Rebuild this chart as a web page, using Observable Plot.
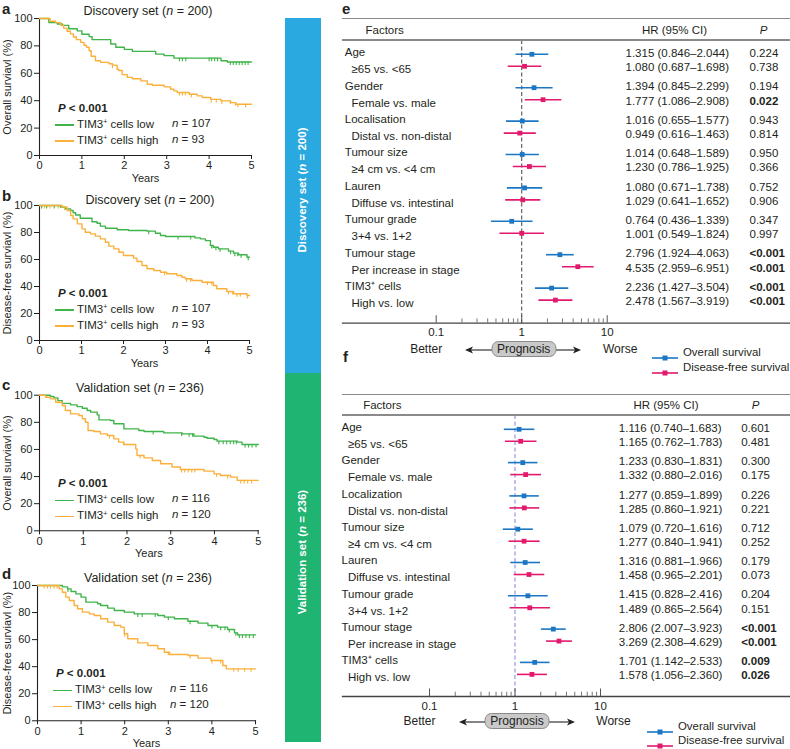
<!DOCTYPE html>
<html><head><meta charset="utf-8">
<script src="https://cdn.jsdelivr.net/npm/d3@7"></script>
<script src="https://cdn.jsdelivr.net/npm/@observablehq/plot@0.6"></script>
<style>
body{margin:0;background:#fff;font-family:"Liberation Sans",Arial,Helvetica,sans-serif;color:#231f20}
#root{position:relative;width:790px;height:749px;overflow:hidden}
.abs{position:absolute;white-space:nowrap;line-height:1}
.abs svg, #root > svg{overflow:visible}
.sup{font-size:0.62em;position:relative;top:-0.5em}
</style></head><body><div id="root"></div>
<script>
// ---------------- Kaplan–Meier data ----------------
const years = [0, 1, 2, 3, 4, 5];
const pctTicks = [0, 20, 40, 60, 80, 100];

const aLowT = [0, 0.22, 0.42, 0.54, 0.69, 0.89, 1.0, 1.17, 1.24, 1.68, 1.8, 2.0, 2.19, 2.74, 2.94, 3.17, 4.28, 4.43, 5];
const aLowS = [100, 97, 96, 95, 92.5, 91, 88.5, 86.8, 84.6, 81.4, 79, 77.5, 76, 74, 72.9, 71.1, 69.2, 68.3, 68.3];
const aLowC = [3.3, 3.37, 3.45, 4.0, 4.06, 4.13, 4.2, 4.5, 4.57, 4.64, 4.71, 4.78, 4.85, 4.92];
const aHighT = [0, 0.25, 0.38, 0.5, 0.57, 0.65, 0.73, 0.8, 0.87, 0.97, 1.05, 1.11, 1.17, 1.22, 1.32, 1.44, 1.64, 1.72, 1.83, 1.87, 1.95, 2.07, 2.19, 2.39, 2.54, 2.66, 2.94, 3.09, 3.17, 3.25, 3.53, 3.72, 3.84, 4.04, 4.28, 4.51, 4.63, 5];
const aHighS = [100, 98, 97, 95, 93, 90.7, 88.8, 86.5, 84.6, 82.6, 80.5, 79, 76.5, 72.5, 69.2, 68, 67, 66, 63, 62, 59, 57, 56, 54.5, 52, 51.3, 50.1, 48.4, 47.2, 46, 44.7, 43.5, 42.3, 41, 39.9, 38.6, 37.4, 37.4];
const aHighC = [1.72, 3.3, 3.37, 3.44, 3.58, 4.05, 4.17, 4.3, 4.5, 4.62, 4.68, 4.86];

const bLowT = [0, 0.5, 0.62, 0.74, 0.8, 0.86, 0.97, 1.25, 1.37, 1.45, 1.57, 1.85, 2.12, 2.56, 2.76, 2.88, 3.0, 3.7, 3.83, 3.95, 4.07, 4.14, 4.26, 4.5, 4.62, 4.74, 4.94, 5];
const bLowS = [100, 98.8, 97.5, 96.3, 94.6, 93, 90.6, 88, 86.9, 84.7, 83.2, 82, 81.5, 81, 79.5, 77.8, 77, 76, 75.3, 74, 70.4, 69.1, 67.9, 66.2, 64.7, 63.5, 61.7, 61.7];
const bLowC = [0.05, 0.17, 0.35, 2.6, 3.3, 3.6, 4.1, 4.2, 4.3, 4.55, 4.65, 4.72, 4.8, 4.97];
const bHighT = [0, 0.54, 0.66, 0.74, 0.8, 0.9, 1.01, 1.09, 1.21, 1.33, 1.45, 1.57, 1.65, 1.77, 1.89, 2.0, 2.24, 2.32, 2.44, 2.56, 2.72, 2.88, 3.03, 3.27, 3.39, 3.47, 3.63, 3.87, 4.14, 4.22, 4.46, 4.62, 4.94, 5];
const bHighS = [100, 98.8, 96.3, 92.6, 90.1, 86.4, 82.7, 80.2, 79, 77.3, 75.3, 72.8, 69.9, 67.9, 65.4, 63, 61, 58.5, 55.6, 53.1, 51.9, 50.6, 49.4, 48.1, 46.9, 45.7, 44.4, 43.2, 40.7, 38.3, 36.3, 34.6, 33.3, 33.3];
const bHighC = [0.12, 0.25, 0.45, 0.6, 2.98, 3.5, 3.6, 4.0, 4.1, 4.5, 4.6, 4.7, 4.78, 4.95];

const cLowT = [0, 0.25, 0.33, 0.42, 0.52, 0.71, 0.86, 0.98, 1.09, 1.17, 1.32, 1.36, 1.62, 1.7, 1.93, 2.27, 2.39, 2.84, 3.26, 3.53, 3.76, 3.83, 3.99, 4.06, 4.52, 4.63, 5];
const cLowS = [100, 99, 98, 96, 94, 92.9, 91.6, 90.4, 88.7, 87.5, 85.5, 81.8, 81.3, 78.9, 75.2, 74, 73.2, 72.2, 71.5, 69.8, 69, 68.3, 67.3, 66.1, 65.4, 63.6, 63.6];
const cLowC = [2.6, 3.25, 3.42, 3.5, 4.1, 4.2, 4.28, 4.36, 4.44, 4.5, 4.7, 4.78, 4.86, 4.95];
const cHighT = [0, 0.14, 0.25, 0.37, 0.52, 0.59, 0.71, 0.9, 0.98, 1.05, 1.11, 1.24, 1.39, 1.55, 1.7, 1.81, 1.93, 2.2, 2.23, 2.39, 2.58, 2.77, 3.03, 3.22, 3.76, 3.99, 4.14, 4.37, 4.52, 5];
const cHighS = [100, 98.5, 97.3, 94.8, 92.4, 88.7, 86.2, 85, 82.6, 80.1, 74, 73.2, 71.5, 70.3, 67.8, 65.4, 63.6, 60.4, 55.5, 53.8, 51.8, 49.4, 47, 45.2, 44, 42, 40.8, 39.6, 37.2, 37.2];
const cHighC = [1.6, 1.92, 2.3, 3.25, 3.32, 3.4, 3.48, 3.55, 4.05, 4.3, 4.6, 4.68, 4.76, 4.85];

const dLowT = [0, 0.57, 0.69, 0.77, 0.88, 1.0, 1.11, 1.38, 1.45, 1.61, 1.76, 1.99, 2.22, 2.76, 2.91, 3.14, 3.45, 3.68, 3.91, 4.13, 4.36, 4.52, 4.59, 5];
const dLowS = [100, 99, 97.5, 95.6, 93.8, 91.4, 87.7, 86.5, 85.2, 83.3, 81.5, 80.3, 79, 77.8, 76.6, 75.4, 73.6, 72.2, 70.4, 69.2, 67.5, 65, 63.5, 63.5];
const dLowC = [0.7, 2.3, 2.4, 2.7, 3.0, 3.5, 4.0, 4.2, 4.3, 4.4, 4.55, 4.63, 4.7, 4.78, 4.86, 4.95];
const dHighT = [0, 0.5, 0.57, 0.65, 0.73, 0.84, 0.92, 1.03, 1.19, 1.3, 1.45, 1.61, 1.76, 1.91, 1.99, 2.07, 2.3, 2.53, 2.76, 2.91, 3.03, 3.45, 3.68, 3.98, 4.25, 4.33, 5];
const dHighS = [100, 97.5, 95, 91.4, 88.9, 85.2, 82.8, 80.3, 79, 77.8, 75.4, 72.9, 70.4, 69.2, 64.3, 60.6, 57.6, 55.7, 53.2, 50.7, 49, 48.3, 46.3, 44.6, 40.9, 38.4, 38.4];
const dHighC = [0.15, 0.23, 0.3, 0.38, 0.45, 2.0, 3.0, 3.5, 4.0, 4.2, 4.5, 4.6, 4.75, 4.9];

// ---------------- Forest data ----------------
const eFactors = ["Age", "Gender", "Localisation", "Tumour size", "Lauren", "Tumour grade", "Tumour stage", "TIM3\u207A cells"];
const fFactors = ["Age", "Gender", "Localization", "Tumour size", "Lauren", "Tumour grade", "Tumour stage", "TIM3\u207A cells"];
const comparisons = ["\u226565 vs. <65", "Female vs. male", "Distal vs. non-distal", "\u22654 cm vs. <4 cm", "Diffuse vs. intestinal", "3+4 vs. 1+2", "Per increase in stage", "High vs. low"];

const eOsHR = [1.315, 1.394, 1.016, 1.014, 1.080, 0.764, 2.796, 2.236];
const eOsLo = [0.846, 0.845, 0.655, 0.648, 0.671, 0.436, 1.924, 1.427];
const eOsHi = [2.044, 2.299, 1.577, 1.589, 1.738, 1.339, 4.063, 3.504];
const eOsP = ["0.224", "0.194", "0.943", "0.950", "0.752", "0.347", "<0.001", "<0.001"];
const eDfsHR = [1.080, 1.777, 0.949, 1.230, 1.029, 1.001, 4.535, 2.478];
const eDfsLo = [0.687, 1.086, 0.616, 0.786, 0.641, 0.549, 2.959, 1.567];
const eDfsHi = [1.698, 2.908, 1.463, 1.925, 1.652, 1.824, 6.951, 3.919];
const eDfsP = ["0.738", "0.022", "0.814", "0.366", "0.906", "0.997", "<0.001", "<0.001"];

const fOsHR = [1.116, 1.233, 1.277, 1.079, 1.316, 1.415, 2.806, 1.701];
const fOsLo = [0.740, 0.830, 0.859, 0.720, 0.881, 0.828, 2.007, 1.142];
const fOsHi = [1.683, 1.831, 1.899, 1.616, 1.966, 2.416, 3.923, 2.533];
const fOsP = ["0.601", "0.300", "0.226", "0.712", "0.179", "0.204", "<0.001", "0.009"];
const fDfsHR = [1.165, 1.332, 1.285, 1.277, 1.458, 1.489, 3.269, 1.578];
const fDfsLo = [0.762, 0.880, 0.860, 0.840, 0.965, 0.865, 2.308, 1.056];
const fDfsHi = [1.783, 2.016, 1.921, 1.941, 2.201, 2.564, 4.629, 2.360];
const fDfsP = ["0.481", "0.175", "0.221", "0.252", "0.073", "0.151", "<0.001", "0.026"];

const hrMajor = [0.1, 1, 10];
const hrMinor = [0.2, 0.3, 0.4, 0.5, 0.6, 0.7, 0.8, 0.9, 2, 3, 4, 5, 6, 7, 8, 9];

// ---------------- style ----------------
const FONT = '"Liberation Sans", Arial, Helvetica, sans-serif';
const INK = "#231f20";
const GREEN = "#3fb44a", ORANGE = "#fbb03b";
const BLUE = "#1b77c3", PINK = "#e2196c";
const BAR_BLUE = "#2aa8e0", BAR_GREEN = "#20b472";

const root = document.getElementById("root");

function addText(x, y, html, opts = {}) {
  const d = document.createElement("div");
  d.className = "abs";
  d.style.left = x + "px";
  d.style.top = y + "px";
  const a = opts.anchor || "start";
  const tx = a === "middle" ? "-50%" : a === "end" ? "-100%" : "0";
  d.style.transform = `translate(${tx},-50%)` + (opts.rotate ? ` rotate(${opts.rotate}deg)` : "");
  d.style.fontSize = (opts.size || 11.5) + "px";
  if (opts.bold) d.style.fontWeight = "bold";
  if (opts.color) d.style.color = opts.color;
  d.innerHTML = html;
  root.appendChild(d);
  return d;
}
function place(el, left, top) {
  el.style.position = "absolute";
  el.style.left = left + "px";
  el.style.top = top + "px";
  root.appendChild(el);
}
const TIM = 'TIM3<span class="sup">+</span>';

// ---------------- side bars ----------------
function bar(top, h, color, html) {
  const d = document.createElement("div");
  d.style.cssText = `position:absolute;left:285px;top:${top}px;width:36px;height:${h}px;background:${color}`;
  root.appendChild(d);
  addText(303, top + h / 2 - 6, html, {anchor: "middle", rotate: -90, bold: true, color: "#fff", size: 11.5});
}
bar(18, 355, BAR_BLUE, "Discovery set (<i>n</i> = 200)");
bar(373, 369, BAR_GREEN, "Validation set (<i>n</i> = 236)");

// ---------------- KM panels ----------------
function stepData(T, S) { return T.map((t, i) => ({t, s: S[i]})); }
function censData(C, T, S) { return C.map(c => ({t: c, s: S[Math.max(0, d3.bisectRight(T, c) - 1)]})); }

const kmPanels = [
  {id: "a", top: 0, H: 185, x0: 39, x5: 251, y100: 18, y0: 155, title: "Discovery set (<i>n</i> = 200)", tx: 148, ty: 11, ly: 7.5,
   ylabel: "Overall surviavl (%)", nLow: 107, nHigh: 93, low: [aLowT, aLowS, aLowC], high: [aHighT, aHighS, aHighC]},
  {id: "b", top: 185, H: 185, x0: 39, x5: 249, y100: 205, y0: 340, title: "Discovery set (<i>n</i> = 200)", tx: 150, ty: 200, ly: 195,
   ylabel: "Disease-free surviavl (%)", nLow: 107, nHigh: 93, low: [bLowT, bLowS, bLowC], high: [bHighT, bHighS, bHighC]},
  {id: "c", top: 370, H: 185, x0: 39, x5: 257.7, y100: 394.7, y0: 530.3, title: "Validation set (<i>n</i> = 236)", tx: 140, ty: 388, ly: 384,
   ylabel: "Overall surviavl (%)", nLow: 116, nHigh: 120, low: [cLowT, cLowS, cLowC], high: [cHighT, cHighS, cHighC]},
  {id: "d", top: 555, H: 194, x0: 37, x5: 255, y100: 585, y0: 720.3, title: "Validation set (<i>n</i> = 236)", tx: 148, ty: 577.5, ly: 573,
   ylabel: "Disease-free surviavl (%)", nLow: 116, nHigh: 120, low: [dLowT, dLowS, dLowC], high: [dHighT, dHighS, dHighC]}
];

for (const p of kmPanels) {
  const W = 285;
  const lowLine = stepData(p.low[0], p.low[1]);
  const highLine = stepData(p.high[0], p.high[1]);
  const lowC = censData(p.low[2], p.low[0], p.low[1]);
  const highC = censData(p.high[2], p.high[0], p.high[1]);
  const svg = Plot.plot({
    width: W, height: p.H,
    marginLeft: p.x0, marginRight: W - p.x5, marginTop: p.y100 - p.top, marginBottom: p.H - (p.y0 - p.top),
    style: {fontFamily: FONT, fontSize: "11px", color: INK, background: "transparent", overflow: "visible"},
    x: {domain: [0, 5]},
    y: {domain: [0, 100]},
    marks: [
      Plot.axisX(years, {tickSize: 4, tickPadding: 2, label: null, stroke: INK}),
      Plot.axisY(pctTicks, {tickSize: 5, tickPadding: 2, label: null, stroke: INK}),
      Plot.frame({anchor: "left", stroke: INK, strokeWidth: 1.1}),
      Plot.frame({anchor: "bottom", stroke: INK, strokeWidth: 1.1}),
      Plot.line(lowLine, {x: "t", y: "s", curve: "step-after", stroke: GREEN, strokeWidth: 1.4}),
      Plot.ruleX(lowC, {x: "t", y1: "s", y2: d => d.s - 2.6, stroke: GREEN, strokeWidth: 1.1}),
      Plot.line(highLine, {x: "t", y: "s", curve: "step-after", stroke: ORANGE, strokeWidth: 1.4}),
      Plot.ruleX(highC, {x: "t", y1: "s", y2: d => d.s - 2.6, stroke: ORANGE, strokeWidth: 1.1}),
      Plot.text([p.ylabel], {frameAnchor: "left", textAnchor: "middle", lineAnchor: "middle", rotate: -90, dx: 7 - p.x0, fontSize: 11}),
      Plot.text(["Years"], {frameAnchor: "bottom", lineAnchor: "middle", dy: 23, fontSize: 11})
    ]
  });
  place(svg, 0, p.top);
  addText(2, p.ly, p.id, {bold: true, size: 15});
  addText(p.tx, p.ty, p.title, {anchor: "middle", size: 12.5});
  addText(p.x0 + 19, p.y0 - 46, "<i>P</i> &lt; 0.001", {bold: true, size: 11.5});
  for (const [dyy, col, lbl, n] of [[-30, GREEN, "low", p.nLow], [-14, ORANGE, "high", p.nHigh]]) {
    const ln = document.createElement("div");
    ln.style.cssText = `position:absolute;left:${p.x0 + 16}px;top:${p.y0 + dyy - 0.75}px;width:19px;height:1.5px;background:${col}`;
    root.appendChild(ln);
    addText(p.x0 + 38, p.y0 + dyy, `${TIM} cells ${lbl}`, {size: 11.5});
    addText(p.x0 + 133, p.y0 + dyy - 1, `<i>n</i> = ${n}`, {size: 11.5});
  }
}

// ---------------- Forest panels ----------------
function fmt(v) { return v.toFixed(3); }
function rowsOf(factors, HR, LO, HI, P) {
  return factors.map((f, k) => ({k, hr: HR[k], lo: LO[k], hi: HI[k], p: P[k], bold: P[k] === "<0.001" || +P[k] < 0.05,
    ci: `${fmt(HR[k])} (${fmt(LO[k])}\u2013${fmt(HI[k])})`}));
}

const forestPanels = [
  {id: "e", left: 342, top: 17, H: 356, factors: eFactors,
   os: [eOsHR, eOsLo, eOsHi, eOsP], dfs: [eDfsHR, eDfsLo, eDfsHi, eDfsP],
   xr: [93.7, 264.7], yr: [35, 35 + 7 * 33.4], axisY: 322.7, headerLine: 40, topLine: 18.3,
   dashColor: "#555", fx: 2.3, sx: 9, hx: 283, px: 407, hfx: 23, hhx: 332, hpx: 421, hy: 13,
   labelY: 7.5, labelX: 342, legX: 652, proY: 349},
  {id: "f", left: 342, top: 393, H: 356, factors: fFactors,
   os: [fOsHR, fOsLo, fOsHi, fOsP], dfs: [fDfsHR, fDfsLo, fDfsHi, fDfsP],
   xr: [87, 258], yr: [34, 34 + 7 * 33.3], axisY: 696, headerLine: 415, topLine: 394.3,
   dashColor: "#8c8ce6", fx: -1, sx: 5.5, hx: 276.3, px: 398.7, hfx: 20.7, hhx: 323.5, hpx: 413, hy: 12,
   labelY: 356, labelX: 343, legX: 647, proY: 721.3}
];

for (const c of forestPanels) {
  const W = 448;
  const mb = c.H - (c.axisY - c.top);
  const frameH = c.H - mb;
  const rows = c.factors.map((f, k) => ({k, factor: f, sub: comparisons[k]}));
  const osRows = rowsOf(c.factors, ...c.os);
  const dfsRows = rowsOf(c.factors, ...c.dfs);
  const txt = {frameAnchor: "left", textAnchor: "start", lineAnchor: "middle", y: "k"};
  const hdr = {frameAnchor: "top-left", lineAnchor: "middle", dy: c.hy};
  const plot = Plot.plot({
    width: W, height: c.H, marginLeft: 0, marginRight: 0, marginTop: 0, marginBottom: mb,
    style: {fontFamily: FONT, fontSize: "11.5px", color: INK, background: "transparent", overflow: "visible"},
    x: {type: "log", domain: [0.1, 10], range: c.xr},
    y: {domain: [0, 7], range: c.yr, axis: null},
    marks: [
      Plot.ruleX([1], {insetTop: c.headerLine - c.top, stroke: c.dashColor, strokeWidth: 1.1, strokeDasharray: "4,2.5"}),
      Plot.frame({anchor: "bottom", stroke: "#444", strokeWidth: 1.3}),
      Plot.ruleX(hrMajor, {insetTop: frameH - 7.5, stroke: "#555", strokeWidth: 1}),
      Plot.ruleX(hrMinor, {insetTop: frameH - 4.3, stroke: "#777", strokeWidth: 1}),
      Plot.axisX(hrMajor, {tickSize: 0, tickPadding: 5, tickFormat: d => String(d), label: null, fontSize: 11.5}),
      Plot.link(osRows, {x1: "lo", x2: "hi", y1: "k", y2: "k", dy: 1.8, stroke: BLUE, strokeWidth: 1.6}),
      Plot.dot(osRows, {x: "hr", y: "k", dy: 1.8, symbol: "square", r: 2.7, fill: BLUE}),
      Plot.link(dfsRows, {x1: "lo", x2: "hi", y1: "k", y2: "k", dy: 13.8, stroke: PINK, strokeWidth: 1.6}),
      Plot.dot(dfsRows, {x: "hr", y: "k", dy: 13.8, symbol: "square", r: 2.7, fill: PINK}),
      Plot.text(rows, {...txt, text: "factor", dx: c.fx}),
      Plot.text(rows, {...txt, text: "sub", dx: c.sx, dy: 17}),
      Plot.text(osRows, {...txt, text: "ci", dx: c.hx, dy: 0.8}),
      Plot.text(dfsRows, {...txt, text: "ci", dx: c.hx, dy: 15}),
      Plot.text(osRows.filter(d => !d.bold), {...txt, text: "p", dx: c.px, dy: 0.8}),
      Plot.text(osRows.filter(d => d.bold), {...txt, text: "p", dx: c.px, dy: 0.8, fontWeight: "bold"}),
      Plot.text(dfsRows.filter(d => !d.bold), {...txt, text: "p", dx: c.px, dy: 15}),
      Plot.text(dfsRows.filter(d => d.bold), {...txt, text: "p", dx: c.px, dy: 15, fontWeight: "bold"}),
      Plot.text(["Factors"], {...hdr, textAnchor: "start", dx: c.hfx}),
      Plot.text(["HR (95% CI)"], {...hdr, textAnchor: "middle", dx: c.hhx}),
      Plot.text(["P"], {...hdr, textAnchor: "middle", dx: c.hpx, fontStyle: "italic"})
    ]
  });
  place(plot, c.left, c.top);

  // table rules
  for (const y of [c.topLine, c.headerLine]) {
    const l = document.createElement("div");
    l.style.cssText = `position:absolute;left:342px;top:${y - 0.75}px;width:448px;height:1.5px;background:#8a8a8a`;
    root.appendChild(l);
  }
  addText(c.labelX, c.labelY, c.id, {bold: true, size: 15});

  // prognosis annotation
  const x1 = c.left + plot.scale("x").apply(1);
  addText(x1 - 95, c.proY, "Better", {anchor: "middle", size: 12});
  addText(x1 + 99, c.proY, "Worse", {anchor: "middle", size: 12});
  const arr = document.createElement("div");
  arr.className = "abs";
  arr.style.left = (x1 - 58) + "px";
  arr.style.top = (c.proY - 6) + "px";
  arr.innerHTML = `<svg width="120" height="12" viewBox="0 0 120 12">
    <line x1="6" y1="6" x2="30" y2="6" stroke="#222" stroke-width="1.1"/>
    <path d="M2,6 L10,2.5 L8,6 L10,9.5 Z" fill="#222"/>
    <line x1="92" y1="6" x2="114" y2="6" stroke="#222" stroke-width="1.1"/>
    <path d="M118,6 L110,2.5 L112,6 L110,9.5 Z" fill="#222"/></svg>`;
  root.appendChild(arr);
  const pill = addText(x1 + 2.5, c.proY, "Prognosis", {anchor: "middle", size: 12});
  pill.style.cssText += ";width:63px;height:14px;line-height:14px;text-align:center;background:#c9c9c9;border:1px solid #8a8a8a;border-radius:7px";

  // legend
  [[BLUE, "Overall survival", 30.5], [PINK, "Disease-free survival", 45]].forEach(([col, lbl, off]) => {
    const y = c.axisY + off;
    const sw = document.createElement("div");
    sw.className = "abs";
    sw.style.left = c.legX + "px";
    sw.style.top = (y - 4) + "px";
    sw.innerHTML = `<svg width="26" height="8"><line x1="0" y1="4" x2="26" y2="4" stroke="${col}" stroke-width="1.6"/><rect x="10.5" y="1.5" width="5" height="5" fill="${col}"/></svg>`;
    root.appendChild(sw);
    addText(c.legX + 31, y, lbl, {size: 11.4});
  });
}
</script></body></html>
